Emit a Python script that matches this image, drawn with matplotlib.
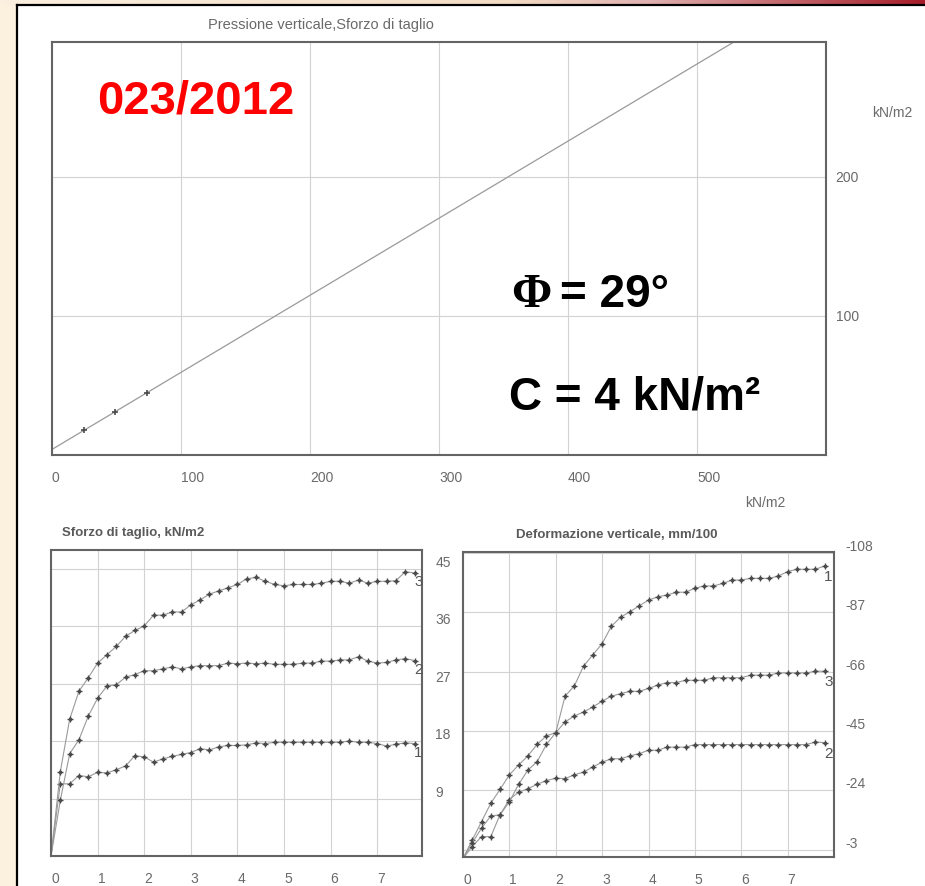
import numpy as np
import matplotlib
matplotlib.use("Agg")
import matplotlib.pyplot as plt
from matplotlib.patches import Rectangle
from matplotlib.colors import LinearSegmentedColormap

plt.rcParams['font.family'] = ['Liberation Sans', 'DejaVu Sans']
plt.rcParams['axes.unicode_minus'] = False

# prova di taglio diretto - campione 023/2012
phi_deg = 29
coesione = 4
sigma_v = [24.5, 49.0, 73.5]
tau_picco = [17.8, 31.2, 44.6]

# spostamento orizzontale (mm)
spost = [0.0, 0.2, 0.4, 0.6, 0.8, 1.0, 1.2, 1.4, 1.6, 1.8,
         2.0, 2.2, 2.4, 2.6, 2.8, 3.0, 3.2, 3.4, 3.6, 3.8,
         4.0, 4.2, 4.4, 4.6, 4.8, 5.0, 5.2, 5.4, 5.6, 5.8,
         6.0, 6.2, 6.4, 6.6, 6.8, 7.0, 7.2, 7.4, 7.6, 7.8]

# sforzo di taglio kN/m2, provini 1-3
tau_1 = [0, 11.3, 11.3, 12.6, 12.4, 13.1, 13.0, 13.5, 14.1, 15.7,
         15.5, 14.7, 15.2, 15.6, 15.9, 16.2, 16.8, 16.6, 17.1, 17.3,
         17.3, 17.4, 17.7, 17.6, 17.8, 17.8, 17.8, 17.8, 17.8, 17.8,
         17.8, 17.8, 18.0, 17.8, 17.8, 17.6, 17.2, 17.5, 17.7, 17.6]
tau_2 = [0, 8.7, 16.0, 18.2, 21.9, 24.7, 26.6, 26.8, 28.0, 28.4,
         29.0, 29.0, 29.3, 29.6, 29.3, 29.6, 29.8, 29.8, 29.8, 30.2,
         30.1, 30.2, 30.1, 30.2, 30.0, 30.0, 30.0, 30.2, 30.2, 30.5,
         30.5, 30.7, 30.7, 31.2, 30.5, 30.2, 30.3, 30.7, 30.9, 30.6]
tau_3 = [0, 13.2, 21.4, 25.8, 27.9, 30.2, 31.5, 32.8, 34.4, 35.3,
         36.0, 37.7, 37.7, 38.2, 38.2, 39.3, 40.1, 41.0, 41.5, 42.0,
         42.5, 43.4, 43.6, 43.0, 42.5, 42.3, 42.5, 42.5, 42.5, 42.7,
         43.0, 43.0, 42.7, 43.2, 42.7, 43.0, 43.0, 43.1, 44.5, 44.3]

# deformazione verticale mm/100, provini 1-3
dz_1 = [0, -6.5, -13.0, -19.5, -24.4, -29.5, -33.0, -36.2, -40.3, -43.3,
        -44.4, -57.3, -60.9, -67.9, -71.9, -75.8, -82.0, -85.2, -87.1, -89.2,
        -91.2, -92.4, -93.0, -94.0, -94.0, -95.4, -96.2, -96.2, -97.1, -98.3,
        -98.3, -98.9, -98.9, -98.9, -99.7, -101.3, -102.1, -102.1, -102.1, -103.3]
dz_2 = [0, -4.2, -7.7, -7.7, -15.5, -20.8, -23.4, -24.6, -26.2, -27.5,
        -28.3, -28.2, -29.5, -30.5, -32.3, -34.0, -35.2, -35.2, -36.2, -37.0,
        -38.2, -38.2, -39.3, -39.3, -39.3, -40.2, -40.2, -40.2, -40.2, -40.2,
        -40.2, -40.2, -40.2, -40.2, -40.2, -40.2, -40.2, -40.2, -41.1, -40.9]
dz_3 = [0, -5.5, -10.7, -15.0, -15.4, -20.0, -26.2, -31.2, -34.2, -40.3,
        -44.4, -48.2, -50.3, -51.7, -53.5, -55.5, -57.3, -58.2, -59.0, -59.0,
        -60.0, -61.2, -62.1, -62.1, -62.9, -62.9, -62.9, -63.8, -63.8, -63.8,
        -63.8, -64.7, -64.7, -64.7, -65.5, -65.5, -65.5, -65.5, -66.1, -66.1]

x_top_ticks = [0, 100, 200, 300, 400, 500]
y_top_ticks = [100, 200]
x_small_ticks = [0, 1, 2, 3, 4, 5, 6, 7]
tau_ticks = [9, 18, 27, 36, 45]
dz_ticks = [-3, -24, -45, -66, -87, -108]

GRID = '#d2d2d2'
SPINE = '#646464'
TXT = '#6a6a6a'
LINE = '#9a9a9a'
MARK = '#4a4a4a'

W, H = 925, 887
fig = plt.figure(figsize=(W / 100, H / 100), dpi=100)
fig.patch.set_facecolor('white')


def px_axes(l, t, r, b):
    return fig.add_axes([l / W, 1 - b / H, (r - l) / W, (b - t) / H])


def fig_text(x, y, s, **kw):
    return fig.text(x / W, 1 - y / H, s, **kw)


# slide background: beige margin, coloured band and black frame
bg = fig.add_axes([0, 0, 1, 1], zorder=-5)
bg.set_xlim(0, W)
bg.set_ylim(H, 0)
bg.axis('off')
band = LinearSegmentedColormap.from_list(
    'band', [(0, '#fbefdf'), (0.55, '#f3dcc4'), (0.7, '#e0b2b0'), (1, '#a61d29')])
bg.imshow(np.linspace(0, 1, 256)[None, :], cmap=band, extent=(0, W, 6, 0), aspect='auto')
bg.add_patch(Rectangle((0, 6), 17, H - 6, facecolor='#fcf0de', edgecolor='none'))
bg.plot([17, 17], [6, H], color='black', lw=1.6)
bg.plot([17, W], [6, 6], color='black', lw=1.6)


def style_axes(ax, xticks, yticks, ypad, xpad, yva):
    ax.set_xticks(xticks)
    ax.set_yticks(yticks)
    ax.grid(True, color=GRID, lw=0.8)
    ax.set_axisbelow(True)
    for sp in ax.spines.values():
        sp.set_color(SPINE)
        sp.set_linewidth(1.5)
    ax.yaxis.tick_right()
    ax.tick_params(axis='both', length=0, labelcolor=TXT, labelsize=10)
    ax.tick_params(axis='y', pad=ypad)
    ax.tick_params(axis='x', pad=xpad)
    for lbl in ax.get_xticklabels():
        lbl.set_ha('left')
    for lbl in ax.get_yticklabels():
        lbl.set_va(yva)


# inviluppo di rottura
ax0 = px_axes(52, 43, 826, 456)
ax0.set_xlim(0, 600)
ax0.set_ylim(0, 297)
style_axes(ax0, x_top_ticks, y_top_ticks, 7, 11, 'center')
s = np.array([0, 600])
ax0.plot(s, coesione + np.tan(np.radians(phi_deg)) * s, color=LINE, lw=0.9)
ax0.plot(sigma_v, tau_picco, '+', color=MARK, ms=5, mew=1.2)

fig_text(208, 25, 'Pressione verticale,Sforzo di taglio', fontsize=10.5, color=TXT, va='center')
fig_text(872, 113, 'kN/m2', fontsize=10, color=TXT, va='center')
fig_text(745, 503, 'kN/m2', fontsize=10, color=TXT, va='center')

fig_text(97, 113, '023/2012', color='#ff0000', fontsize=34, fontweight='bold', va='baseline')
fig_text(511, 307, 'Φ', family=['Liberation Serif', 'DejaVu Serif'], fontweight='bold',
         fontsize=35, va='baseline', color='black')
fig_text(560, 307, '= 29°', fontweight='bold', fontsize=33, va='baseline', color='black')
fig_text(509, 410, 'C = 4 kN/m²', fontweight='bold', fontsize=33, va='baseline', color='black')


def draw_curves(ax, x, series, labels, dy):
    for y, lab in zip(series, labels):
        ax.plot(x, y, color=LINE, lw=0.8)
        ax.plot(x[1:], y[1:], 'o', color=MARK, ms=2.6, mec='none')
        ax.plot(x[1:], y[1:], '+', color=MARK, ms=5, mew=1.0)
        ax.text(x[-1] + 0.08, y[-1] + dy, lab, ha='center', va='center',
                fontsize=11, color='#555555')


# sforzo di taglio
ax1 = px_axes(51, 551, 422, 857)
ax1.set_xlim(0, 7.96)
ax1.set_ylim(0, 47.9)
style_axes(ax1, x_small_ticks, tau_ticks, 9.5, 11, 'bottom')
draw_curves(ax1, spost, [tau_1, tau_2, tau_3], ['1', '2', '3'], -1.3)
fig_text(62, 533, 'Sforzo di taglio, kN/m2', fontsize=9.5, fontweight='bold', color='#5a5a5a', va='center')

# deformazione verticale
ax2 = px_axes(463, 553, 834, 858)
ax2.set_xlim(0, 8.0)
ax2.set_ylim(-0.5, -108.2)
style_axes(ax2, x_small_ticks, dz_ticks, 8, 11, 'bottom')
draw_curves(ax2, spost, [dz_1, dz_2, dz_3], ['1', '2', '3'], 3.6)
fig_text(516, 535, 'Deformazione verticale, mm/100', fontsize=9.5, fontweight='bold', color='#5a5a5a', va='center')

fig.savefig('out.png', dpi=100)
